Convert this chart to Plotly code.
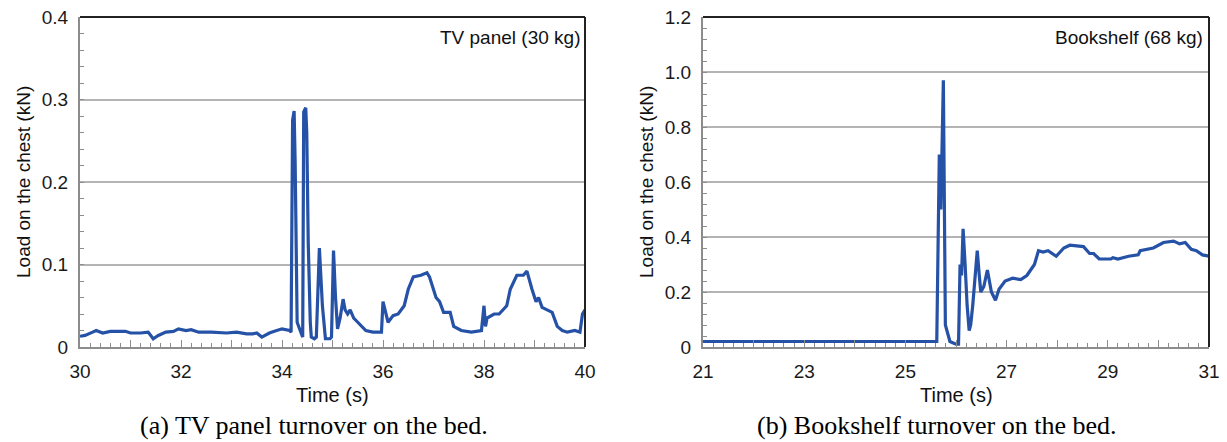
import plotly.graph_objects as go

# ---- Data: (a) TV panel (30 kg) ----
tv_time = [30.0, 30.1, 30.25, 30.32, 30.45, 30.6, 30.9, 31.0, 31.2, 31.35, 31.45, 31.55, 31.7, 31.85, 31.95,
           32.1, 32.2, 32.35, 32.6, 32.9, 33.1, 33.3, 33.42, 33.5, 33.6, 33.75, 33.85, 34.0, 34.15,
           34.18, 34.21, 34.24, 34.26, 34.3, 34.36, 34.41, 34.43, 34.47, 34.49, 34.52, 34.56, 34.58,
           34.64, 34.68, 34.74, 34.8, 34.86, 34.95, 34.98, 35.02, 35.06, 35.1, 35.15, 35.21, 35.25,
           35.3, 35.35, 35.42, 35.5, 35.66, 35.8, 35.97, 36.0, 36.04, 36.1, 36.2, 36.3, 36.42, 36.5,
           36.6, 36.75, 36.87, 36.92, 37.05, 37.12, 37.2, 37.33, 37.4, 37.55, 37.75, 37.95, 38.0,
           38.03, 38.06, 38.2, 38.3, 38.45, 38.52, 38.65, 38.78, 38.85, 38.95, 39.03, 39.08, 39.15,
           39.25, 39.35, 39.45, 39.55, 39.65, 39.8, 39.9, 39.95, 40.0]
tv_load = [0.013, 0.014, 0.018, 0.020, 0.017, 0.019, 0.019, 0.017, 0.017, 0.018, 0.010, 0.014, 0.018, 0.019, 0.022,
           0.020, 0.021, 0.018, 0.018, 0.017, 0.018, 0.016, 0.016, 0.017, 0.012, 0.017, 0.019, 0.022, 0.020,
           0.018, 0.275, 0.286, 0.225, 0.030, 0.020, 0.012, 0.285, 0.290, 0.260, 0.125, 0.030, 0.012,
           0.010, 0.012, 0.120, 0.050, 0.010, 0.010, 0.012, 0.117, 0.060, 0.022, 0.035, 0.058, 0.045,
           0.040, 0.045, 0.035, 0.030, 0.020, 0.018, 0.018, 0.055, 0.045, 0.030, 0.038, 0.040, 0.050, 0.070,
           0.085, 0.087, 0.090, 0.085, 0.060, 0.055, 0.042, 0.042, 0.025, 0.020, 0.018, 0.020, 0.050,
           0.025, 0.035, 0.040, 0.040, 0.050, 0.070, 0.087, 0.087, 0.092, 0.070, 0.055, 0.060, 0.048,
           0.045, 0.042, 0.025, 0.020, 0.018, 0.020, 0.018, 0.040, 0.045]

# ---- Data: (b) Bookshelf (68 kg) ----
bs_time = [21.0, 25.62, 25.67, 25.70, 25.75, 25.79, 25.88, 26.0, 26.05, 26.08, 26.11, 26.14, 26.18, 26.22,
           26.26, 26.29, 26.33, 26.38, 26.42, 26.46, 26.49, 26.55, 26.62, 26.7, 26.78, 26.85, 26.97,
           27.12, 27.28, 27.4, 27.55, 27.63, 27.72, 27.82, 27.98, 28.13, 28.25, 28.52, 28.64, 28.72,
           28.83, 29.06, 29.1, 29.2, 29.41, 29.6, 29.64, 29.9, 30.1, 30.3, 30.42, 30.53, 30.65, 30.75,
           30.87, 31.0]
bs_load = [0.02, 0.02, 0.70, 0.50, 0.97, 0.08, 0.02, 0.01, 0.01, 0.30, 0.26, 0.43, 0.30, 0.15,
           0.06, 0.08, 0.15, 0.25, 0.35, 0.26, 0.20, 0.22, 0.28, 0.20, 0.17, 0.21, 0.24,
           0.25, 0.245, 0.26, 0.30, 0.35, 0.345, 0.35, 0.33, 0.36, 0.37, 0.365, 0.34, 0.34,
           0.32, 0.32, 0.325, 0.32, 0.33, 0.335, 0.35, 0.36, 0.38, 0.385, 0.375, 0.38, 0.355, 0.35,
           0.335, 0.33]

tv_yticks = [0, 0.1, 0.2, 0.3, 0.4]
tv_ylabels = ["0", "0.1", "0.2", "0.3", "0.4"]
bs_yticks = [0, 0.2, 0.4, 0.6, 0.8, 1.0, 1.2]
bs_ylabels = ["0", "0.2", "0.4", "0.6", "0.8", "1.0", "1.2"]
tv_xticks = list(range(30, 41))
tv_xlabels = [str(v) if v % 2 == 0 else "" for v in tv_xticks]
bs_xticks = list(range(21, 32))
bs_xlabels = [str(v) if v % 2 == 1 else "" for v in bs_xticks]

line_color = "#2552a6"
grid_color = "#b4b4b4"
axis_gray = "#8c8c8c"
font_sans = "Liberation Sans, Arial, sans-serif"
font_serif = "Liberation Serif, Times New Roman, serif"

W, H = 1227, 442
fig = go.Figure()
fig.add_trace(go.Scatter(x=tv_time, y=tv_load, mode="lines", line=dict(color=line_color, width=3.2),
                         xaxis="x", yaxis="y", showlegend=False))
fig.add_trace(go.Scatter(x=bs_time, y=bs_load, mode="lines", line=dict(color=line_color, width=3.2),
                         xaxis="x2", yaxis="y2", showlegend=False))

L = [80 / W, 585 / W]
R = [703 / W, 1209 / W]
Yd = [1 - 347 / H, 1 - 17 / H]

tickfont = dict(family=font_sans, size=19, color="#1a1a1a")

def xaxis(domain, anchor, rng, vals, labels):
    return dict(domain=domain, anchor=anchor, range=rng, tickmode="array", tickvals=vals, ticktext=labels,
                showgrid=False, zeroline=False, showline=True, linecolor=axis_gray, linewidth=2,
                ticks="inside", ticklen=7, tickcolor=axis_gray, tickwidth=1, tickfont=tickfont,
                automargin=False, ticklabelstandoff=6,
                minor=dict(dtick=0.2, ticks="inside", ticklen=4, tickcolor=axis_gray, showgrid=False))

def yaxis(anchor, rng, vals, labels, mdt):
    return dict(domain=Yd, anchor=anchor, range=rng, tickmode="array", tickvals=vals, ticktext=labels,
                showgrid=True, gridcolor=grid_color, gridwidth=2, zeroline=False, showline=True,
                linecolor=axis_gray, linewidth=2, ticks="", tickfont=tickfont, automargin=False,
                ticklabelstandoff=6,
                minor=dict(dtick=mdt, tick0=0, ticks="inside", ticklen=4, tickcolor=axis_gray, showgrid=False))

fig.update_layout(
    width=W, height=H, margin=dict(l=0, r=0, t=0, b=0),
    paper_bgcolor="white", plot_bgcolor="white",
    xaxis=xaxis(L, "y", [30, 40], tv_xticks, tv_xlabels),
    yaxis=yaxis("x", [0, 0.4], tv_yticks, tv_ylabels, 0.02),
    xaxis2=xaxis(R, "y2", [21, 31], bs_xticks, bs_xlabels),
    yaxis2=yaxis("x2", [0, 1.2], bs_yticks, bs_ylabels, 0.04),
)

# Dark top/right frame edges
for d in (L, R):
    fig.add_shape(type="line", xref="paper", yref="paper", x0=d[0], x1=d[1], y0=Yd[1], y1=Yd[1],
                  line=dict(color="#222222", width=2))
    fig.add_shape(type="line", xref="paper", yref="paper", x0=d[1], x1=d[1], y0=Yd[0], y1=Yd[1],
                  line=dict(color="#222222", width=2))

ann = []
ann.append(dict(text="TV panel (30 kg)", x=582 / W, y=1 - 37 / H, xanchor="right", yanchor="middle"))
ann.append(dict(text="Bookshelf (68 kg)", x=1205 / W, y=1 - 37 / H, xanchor="right", yanchor="middle"))
for a in ann:
    a.update(xref="paper", yref="paper", showarrow=False, font=dict(family=font_sans, size=19, color="#111"))
for cx in ((L[0] + L[1]) / 2, (R[0] + R[1]) / 2):
    ann.append(dict(text="Time (s)", x=cx, y=1 - 395 / H, xref="paper", yref="paper", showarrow=False,
                    xanchor="center", yanchor="middle", font=dict(family=font_sans, size=20, color="#111")))
for ax in (23 / W, 646 / W):
    ann.append(dict(text="Load on the chest (kN)", x=ax, y=(Yd[0] + Yd[1]) / 2, xref="paper", yref="paper",
                    showarrow=False, textangle=-90, xanchor="center", yanchor="middle",
                    font=dict(family=font_sans, size=19, color="#111")))
ann.append(dict(text="(a) TV panel turnover on the bed.", x=314 / W, y=1 - 425 / H,
                xref="paper", yref="paper", showarrow=False, xanchor="center", yanchor="middle",
                font=dict(family=font_serif, size=26, color="#000")))
ann.append(dict(text="(b) Bookshelf turnover on the bed.", x=937 / W, y=1 - 425 / H,
                xref="paper", yref="paper", showarrow=False, xanchor="center", yanchor="middle",
                font=dict(family=font_serif, size=26, color="#000")))
fig.update_layout(annotations=ann)

fig.write_html("out.html", config={"displayModeBar": False},
               post_script="document.body.style.margin='0';document.body.style.overflow='hidden';")
